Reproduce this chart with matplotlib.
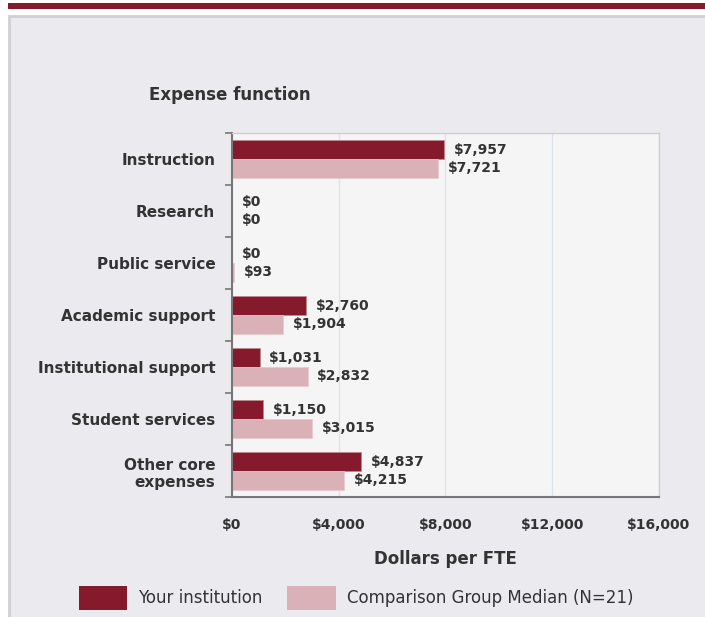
import numpy as np
import matplotlib.pyplot as plt
from matplotlib.patches import Patch, Rectangle

categories = ['Instruction', 'Research', 'Public service', 'Academic support',
              'Institutional support', 'Student services', 'Other core\nexpenses']
yours = [7957, 0, 0, 2760, 1031, 1150, 4837]
median = [7721, 0, 93, 1904, 2832, 3015, 4215]
xticks = [0, 4000, 8000, 12000, 16000]

dark = '#851a2c'
light = '#d9b1b7'
txt = '#333333'

W, H = 705, 617
fig = plt.figure(figsize=(W / 100, H / 100), dpi=100)
fig.patch.set_facecolor('white')

# page decoration: red strip and grey panel (behind the axes)
fig.patches.append(Rectangle((8 / W, 1 - 9 / H), 697 / W, 6 / H, transform=fig.transFigure,
                             facecolor=dark, edgecolor='none', zorder=-10))
fig.patches.append(Rectangle((9 / W, -0.01), 700 / W, 1 - 16 / H + 0.01, transform=fig.transFigure,
                             facecolor='#ebebef', edgecolor='#d0d0d0', linewidth=2, zorder=-10))

ax = fig.add_axes([232 / W, 1 - 497 / H, 427 / W, 364 / H])
ax.set_facecolor('#f5f5f5')

y = np.arange(len(categories))
h = 0.36
ax.barh(y - h / 2, yours, height=h, color=dark, edgecolor='#c08890', linewidth=0.5)
ax.barh(y + h / 2, median, height=h, color=light, edgecolor='#e8c8cc', linewidth=0.5)

for yi, v in zip(y, yours):
    ax.annotate('${:,}'.format(v), (v, yi - h / 2), xytext=(7, 0), textcoords='offset points',
                va='center', ha='left', fontsize=10, fontweight='bold', color=txt)
for yi, v in zip(y, median):
    ax.annotate('${:,}'.format(v), (v, yi + h / 2), xytext=(7, 0), textcoords='offset points',
                va='center', ha='left', fontsize=10, fontweight='bold', color=txt)

ax.set_xlim(0, 16000)
ax.set_ylim(len(categories) - 0.5, -0.5)
ax.set_xticks(xticks)
ax.set_xticklabels(['${:,}'.format(t) for t in xticks], fontsize=10, fontweight='bold', color=txt)
ax.tick_params(axis='x', length=0, pad=15)
ax.grid(axis='x', color='#dde3ee', linewidth=1)
ax.set_axisbelow(True)

ax.set_yticks(np.arange(len(categories) + 1) - 0.5)
ax.set_yticklabels([])
ax.tick_params(axis='y', which='major', length=5, width=1.2, color='#777777')
ax.set_yticks(y, minor=True)
ax.set_yticklabels(categories, minor=True, fontsize=11, fontweight='bold', color=txt)
ax.tick_params(axis='y', which='minor', length=0, pad=12)

for s in ['left', 'bottom']:
    ax.spines[s].set_color('#777777')
    ax.spines[s].set_linewidth(1.5)
for s in ['top', 'right']:
    ax.spines[s].set_color('#cfcfcf')
    ax.spines[s].set_linewidth(1)

ax.set_xlabel('Dollars per FTE', fontsize=12, fontweight='bold', color=txt, labelpad=13)
fig.text(149 / W, 1 - 95 / H, 'Expense function', fontsize=12, fontweight='bold', color=txt,
         va='center', ha='left')

handles = [Patch(facecolor=dark, edgecolor='none', label='Your institution'),
           Patch(facecolor=light, edgecolor='none', label='Comparison Group Median (N=21)')]
leg = fig.legend(handles=handles, loc='center', bbox_to_anchor=(356 / W, 1 - 598 / H), ncol=2,
                 frameon=False, handlelength=2.9, handleheight=1.8, handletextpad=0.65,
                 columnspacing=1.5, prop={'size': 12})
for t in leg.get_texts():
    t.set_color(txt)

fig.savefig('out.png', dpi=100)
